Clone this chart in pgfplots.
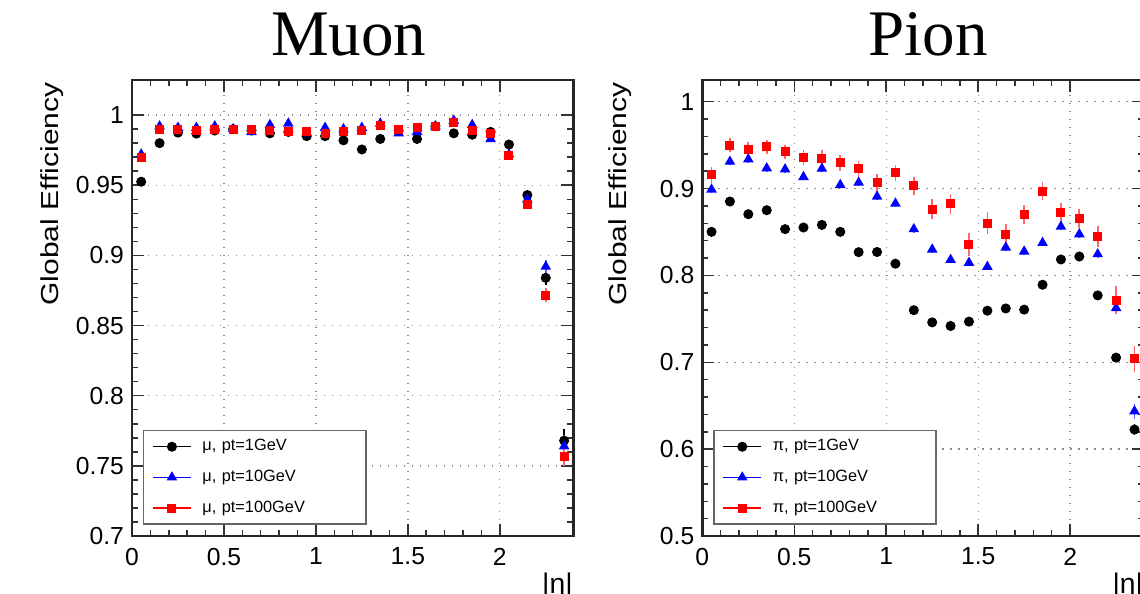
\documentclass[border=0pt]{standalone}
\usepackage{fontspec}
\setmainfont{Liberation Sans}
\newfontfamily\titlefont{Liberation Serif}
\usepackage{graphicx}
\usepackage{pgfplots}
\pgfplotsset{compat=1.18}
\usepackage{pgfplotstable}

% Muon: |eta| bin centre, efficiency, error
\pgfplotstableread{
x y e
0.05 0.9525 0.002
0.15 0.980 0.0015
0.25 0.9875 0.001
0.35 0.9868 0.001
0.45 0.989 0.001
0.55 0.990 0.001
0.65 0.989 0.001
0.75 0.987 0.001
0.85 0.988 0.001
0.95 0.985 0.001
1.05 0.985 0.001
1.15 0.982 0.001
1.25 0.9755 0.0015
1.35 0.983 0.001
1.45 0.989 0.001
1.55 0.983 0.001
1.65 0.992 0.001
1.75 0.987 0.001
1.85 0.986 0.001
1.95 0.988 0.001
2.05 0.979 0.0015
2.15 0.943 0.003
2.25 0.884 0.005
2.35 0.768 0.008
}\muA
\pgfplotstableread{
x y e
0.05 0.972 0.002
0.15 0.992 0.001
0.25 0.991 0.001
0.35 0.991 0.001
0.45 0.992 0.001
0.55 0.990 0.001
0.65 0.988 0.001
0.75 0.993 0.001
0.85 0.994 0.001
0.95 0.987 0.001
1.05 0.991 0.001
1.15 0.990 0.001
1.25 0.991 0.001
1.35 0.994 0.001
1.45 0.987 0.001
1.55 0.988 0.001
1.65 0.992 0.001
1.75 0.996 0.001
1.85 0.993 0.001
1.95 0.983 0.001
2.05 0.972 0.0015
2.15 0.940 0.003
2.25 0.892 0.005
2.35 0.764 0.008
}\muB
\pgfplotstableread{
x y e
0.05 0.970 0.002
0.15 0.990 0.001
0.25 0.9894 0.001
0.35 0.989 0.001
0.45 0.9894 0.001
0.55 0.990 0.001
0.65 0.990 0.001
0.75 0.989 0.001
0.85 0.988 0.001
0.95 0.9885 0.001
1.05 0.987 0.001
1.15 0.9885 0.001
1.25 0.989 0.001
1.35 0.9925 0.001
1.45 0.990 0.001
1.55 0.991 0.001
1.65 0.992 0.001
1.75 0.995 0.001
1.85 0.989 0.001
1.95 0.9866 0.001
2.05 0.9714 0.0015
2.15 0.936 0.003
2.25 0.8715 0.005
2.35 0.7567 0.007
}\muC

% Pion
\pgfplotstableread{
x y e
0.05 0.8502 0.004
0.15 0.8851 0.004
0.25 0.8705 0.004
0.35 0.8751 0.004
0.45 0.8533 0.004
0.55 0.8552 0.004
0.65 0.8582 0.004
0.75 0.8502 0.004
0.85 0.8268 0.004
0.95 0.8270 0.004
1.05 0.8135 0.004
1.15 0.7600 0.004
1.25 0.7460 0.004
1.35 0.7418 0.004
1.45 0.7468 0.004
1.55 0.7594 0.004
1.65 0.7620 0.004
1.75 0.7606 0.004
1.85 0.7893 0.004
1.95 0.8184 0.004
2.05 0.8218 0.004
2.15 0.7770 0.004
2.25 0.7054 0.005
2.35 0.6226 0.006
}\piA
\pgfplotstableread{
x y e
0.05 0.8989 0.004
0.15 0.9310 0.004
0.25 0.9337 0.004
0.35 0.9234 0.004
0.45 0.9222 0.004
0.55 0.9134 0.004
0.65 0.9230 0.004
0.75 0.9042 0.004
0.85 0.9069 0.004
0.95 0.8908 0.004
1.05 0.8828 0.004
1.15 0.8533 0.004
1.25 0.8299 0.004
1.35 0.8180 0.004
1.45 0.8146 0.004
1.55 0.8100 0.004
1.65 0.8322 0.004
1.75 0.8276 0.004
1.85 0.8375 0.004
1.95 0.8563 0.004
2.05 0.8475 0.004
2.15 0.8245 0.004
2.25 0.7625 0.006
2.35 0.6437 0.0086
}\piB
\pgfplotstableread{
x y e
0.05 0.9157 0.009
0.15 0.9498 0.008
0.25 0.9452 0.008
0.35 0.9479 0.008
0.45 0.9425 0.008
0.55 0.9356 0.009
0.65 0.9349 0.009
0.75 0.9295 0.009
0.85 0.9226 0.009
0.95 0.9065 0.010
1.05 0.9180 0.009
1.15 0.9031 0.010
1.25 0.8762 0.0115
1.35 0.8828 0.0115
1.45 0.8360 0.0134
1.55 0.8602 0.0125
1.65 0.8467 0.012
1.75 0.8700 0.011
1.85 0.8969 0.0105
1.95 0.8724 0.011
2.05 0.8651 0.011
2.15 0.8452 0.012
2.25 0.7717 0.0157
2.35 0.7039 0.0153
}\piC

\pgfplotsset{
  rootframe/.style={
    scale only axis, width=132.4pt, height=136.8pt,
    anchor=south west,
    xmin=0, xmax=2.4,
    xtick={0,0.5,1,1.5,2}, xticklabels={0,0.5,1,1.5,2},
    minor x tick num=4, minor y tick num=4,
    tick align=inside, major tick length=3.6pt, minor tick length=1.8pt,
    tick style={black!80, line width=0.45pt},
    axis line style={black!85, line width=0.7pt},
    xmajorgrids, ymajorgrids,
    grid style={dotted, black!45, line width=0.4pt},
    tick label style={font=\fontsize{7.4}{8}\selectfont},
    /pgf/number format/assume math mode=true,
    yticklabel style={xshift=1.1pt},
    title style={font=\titlefont\fontsize{19.5}{20}\selectfont, at={(0.5,1)}, anchor=base, yshift=1.5pt},
    ylabel={\scalebox{1}[0.82]{Global Efficiency}},
    ylabel style={font=\fontsize{9}{10}\selectfont, anchor=east, inner sep=0pt},
    xlabel={|η|},
    xlabel style={font=\fontsize{8.5}{9}\selectfont, at={(rel axis cs:1,-0.079)}, anchor=north east, inner sep=0pt},
    legend cell align=left,
    legend style={at={(0.024,0.024)}, anchor=south west, draw=black!60, line width=0.5pt,
      font=\fontsize{4.9}{5}\selectfont, inner xsep=2.7pt, inner ysep=1.8pt, row sep=3.1pt,
      nodes={inner sep=0.8pt, text width=45.5pt, text height=3.5pt, text depth=1pt},
      /tikz/every odd column/.append style={column sep=2.5pt}},
    legend image code/.code={\draw[#1, sharp plot, line width=0.4pt, mark repeat=2, mark phase=2]
      plot coordinates {(0pt,0pt) (5.65pt,0pt) (11.3pt,0pt)};},
  },
  ptA/.style={black, only marks, mark=*, mark size=1.3pt,
    error bars/.cd, y dir=both, y explicit, error mark=none, error bar style={line width=0.5pt}},
  ptB/.style={blue, only marks, mark=triangle*, mark size=1.45pt,
    error bars/.cd, y dir=both, y explicit, error mark=none, error bar style={line width=0.5pt, blue!60}},
  ptC/.style={red, only marks, mark=square*, mark size=1.15pt,
    error bars/.cd, y dir=both, y explicit, error mark=none, error bar style={line width=0.5pt, red!60}},
}

\begin{document}
\begin{tikzpicture}
\useasboundingbox (0,0) rectangle (342pt,177.9pt);
\clip (0,0) rectangle (342pt,177.9pt);

\begin{axis}[rootframe, at={(39.6pt,17.1pt)},
  ymin=0.7, ymax=1.025,
  ytick={0.7,0.75,0.8,0.85,0.9,0.95,1}, yticklabels={0.7,0.75,0.8,0.85,0.9,0.95,1},
  title={Muon}, title style={xshift=-1.2pt},
  ylabel style={at={(rel axis cs:-0.181,0.996)}},
]
\addplot[ptA] table[x=x, y=y, y error=e] {\muA};
\addlegendentry{μ, pt=1GeV}
\addplot[ptB] table[x=x, y=y, y error=e] {\muB};
\addlegendentry{μ, pt=10GeV}
\addplot[ptC] table[x=x, y=y, y error=e] {\muC};
\addlegendentry{μ, pt=100GeV}
\end{axis}

\begin{axis}[rootframe, at={(210.7pt,17.1pt)},
  ymin=0.5, ymax=1.025,
  ytick={0.5,0.6,0.7,0.8,0.9,1}, yticklabels={0.5,0.6,0.7,0.8,0.9,1},
  title={Pion}, title style={xshift=1.5pt},
  ylabel style={at={(rel axis cs:-0.187,0.996)}},
]
\addplot[ptA] table[x=x, y=y, y error=e] {\piA};
\addlegendentry{π, pt=1GeV}
\addplot[ptB] table[x=x, y=y, y error=e] {\piB};
\addlegendentry{π, pt=10GeV}
\addplot[ptC] table[x=x, y=y, y error=e] {\piC};
\addlegendentry{π, pt=100GeV}
\end{axis}
\end{tikzpicture}
\end{document}
